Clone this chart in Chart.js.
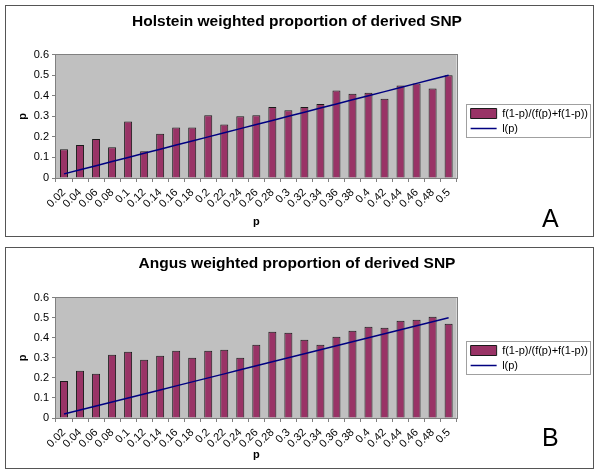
<!DOCTYPE html>
<html lang="en">
    <head>
        <meta charset="UTF-8">
        <script src="https://cdn.jsdelivr.net/npm/chart.js"></script>
        <style>
            body {
                margin: 0;
                background: #fff;
                font-family: 'Liberation Sans', Arial, sans-serif;
            }

            .panel {
                position: absolute;
                left: 5px;
                width: 589px;
                border: 1px solid #555;
                box-sizing: border-box;
                background: #fff;
            }

            #panel-a {
                top: 5px;
                height: 232px;
            }

            #panel-b {
                top: 247px;
                height: 222px;
            }

            .panel canvas {
                display: block;
            }

            .letter {
                position: absolute;
                font-size: 25px;
                line-height: 28px;
                color: #000;
            }
        </style>
        <title>Weighted proportion of derived SNP</title>
    </head>
    <body>
        <div id="panel-a" class="panel">
            <canvas id="chart-a" width="587" height="230"></canvas>
        </div>
        <div id="panel-b" class="panel">
            <canvas id="chart-b" width="587" height="220"></canvas>
        </div>
        <div class="letter" style="left: 542px; top: 204px;">A</div>
        <div class="letter" style="left: 542px; top: 423px;">B</div>
    </body>
    <script>
        Chart.defaults.font.family = "'Liberation Sans', Arial, sans-serif";
        Chart.defaults.font.size = 11;
        Chart.defaults.color = '#000';

        const pLabels = ['0.02', '0.04', '0.06', '0.08', '0.1', '0.12', '0.14', '0.16', '0.18', '0.2',
            '0.22', '0.24', '0.26', '0.28', '0.3', '0.32', '0.34', '0.36', '0.38', '0.4',
            '0.42', '0.44', '0.46', '0.48', '0.5'];

        // l(p)
        const lineVals = [0.02, 0.04, 0.06, 0.08, 0.1, 0.12, 0.14, 0.16, 0.18, 0.2,
            0.22, 0.24, 0.26, 0.28, 0.3, 0.32, 0.34, 0.36, 0.38, 0.4,
            0.42, 0.44, 0.46, 0.48, 0.5];

        const holsteinVals = [0.14, 0.16, 0.19, 0.15, 0.275, 0.13, 0.215, 0.245, 0.245, 0.305,
            0.26, 0.30, 0.305, 0.345, 0.33, 0.345, 0.36, 0.425, 0.41, 0.415,
            0.385, 0.45, 0.46, 0.435, 0.50];

        const angusVals = [0.185, 0.235, 0.22, 0.315, 0.33, 0.29, 0.31, 0.335, 0.30, 0.335,
            0.34, 0.30, 0.365, 0.43, 0.425, 0.39, 0.365, 0.405, 0.435, 0.455,
            0.45, 0.485, 0.49, 0.505, 0.47];

        const barLabel = 'f(1-p)/(f(p)+f(1-p))';
        const lineLabel = 'l(p)';

        const legendShift = 10;

        // grey plot area + frame, legend nudged right with a frame round it
        const plotFrame = {
            id: 'plotFrame',
            afterUpdate(chart) {
                const lg = chart.legend;
                lg.left += legendShift;
                lg.right += legendShift;
                lg.legendHitBoxes.forEach(b => { b.left += legendShift; });
            },
            beforeDatasetsDraw(chart) {
                const {ctx, chartArea: a} = chart;
                ctx.save();
                ctx.fillStyle = '#c0c0c0';
                ctx.fillRect(a.left, a.top, a.right - a.left, a.bottom - a.top);
                ctx.restore();
            },
            afterDatasetsDraw(chart) {
                const {ctx, chartArea: a} = chart;
                ctx.save();
                ctx.strokeStyle = '#808080';
                ctx.lineWidth = 1;
                ctx.strokeRect(Math.round(a.left) - 0.5, Math.round(a.top) - 0.5,
                    Math.round(a.right - a.left) + 1, Math.round(a.bottom - a.top) + 1);
                ctx.restore();
            },
            afterDraw(chart) {
                const boxes = chart.legend.legendHitBoxes;
                if (!boxes || !boxes.length) return;
                const left = Math.min(...boxes.map(b => b.left)) - 5;
                const top = Math.min(...boxes.map(b => b.top)) - 4;
                const right = Math.max(...boxes.map(b => b.left + b.width)) + 2;
                const bottom = Math.max(...boxes.map(b => b.top + b.height)) + 3;
                const ctx = chart.ctx;
                ctx.save();
                ctx.strokeStyle = '#a0a0a0';
                ctx.lineWidth = 1;
                ctx.strokeRect(Math.round(left) + 0.5, Math.round(top) + 0.5,
                    Math.round(right - left), Math.round(bottom - top));
                ctx.restore();
            }
        };

        const makeChart = (id, title, barVals, dims) => {
            return new Chart(document.getElementById(id), {
                type: 'bar',
                data: {
                    labels: pLabels,
                    datasets: [
                        {
                            label: barLabel,
                            data: barVals,
                            backgroundColor: '#993366',
                            borderColor: '#1a1a1a',
                            borderWidth: 1,
                            pointStyle: 'rect',
                            categoryPercentage: 1,
                            barPercentage: 0.5,
                            order: 1
                        },
                        {
                            type: 'line',
                            label: lineLabel,
                            data: lineVals,
                            borderColor: '#000080',
                            backgroundColor: '#000080',
                            borderWidth: 1.5,
                            pointRadius: 0,
                            pointStyle: 'line',
                            tension: 0,
                            order: 0
                        }
                    ]
                },
                options: {
                    responsive: false,
                    animation: false,
                    events: [],
                    layout: {padding: {right: 5}},
                    scales: {
                        x: {
                            grid: {drawOnChartArea: false, tickLength: 4, color: '#808080', offset: true},
                            border: {display: false},
                            ticks: {minRotation: 45, maxRotation: 45, padding: 4, autoSkip: false},
                            title: {display: true, text: 'p', font: {weight: 'bold', size: 11}, padding: {bottom: dims.xTitlePad}},
                            afterFit: scale => { scale.height = dims.xHeight; }
                        },
                        y: {
                            min: 0,
                            max: 0.6,
                            ticks: {stepSize: 0.1, padding: 3},
                            grid: {drawOnChartArea: false, tickLength: 4, color: '#808080'},
                            border: {display: false},
                            title: {display: true, text: 'p', font: {weight: 'bold', size: 11}, padding: {top: 10}},
                            afterFit: scale => { scale.width = 50; }
                        }
                    },
                    plugins: {
                        title: {
                            display: true,
                            text: title,
                            font: {weight: 'bold', size: 15.5},
                            padding: {top: dims.titleTop, bottom: dims.titleBottom}
                        },
                        legend: {
                            position: 'right',
                            labels: {
                                usePointStyle: true,
                                pointStyleWidth: 26,
                                boxHeight: 10,
                                padding: 4,
                                font: {size: 11},
                                sort: (a, b) => a.datasetIndex - b.datasetIndex
                            }
                        },
                        tooltip: {enabled: false}
                    }
                },
                plugins: [plotFrame]
            });
        };

        makeChart('chart-a', 'Holstein weighted proportion of derived SNP', holsteinVals,
            {xHeight: 58, xTitlePad: 7, titleTop: 6, titleBottom: 24});

        makeChart('chart-b', 'Angus weighted proportion of derived SNP', angusVals,
            {xHeight: 50, xTitlePad: 6, titleTop: 6, titleBottom: 25});
    </script>
</html>
